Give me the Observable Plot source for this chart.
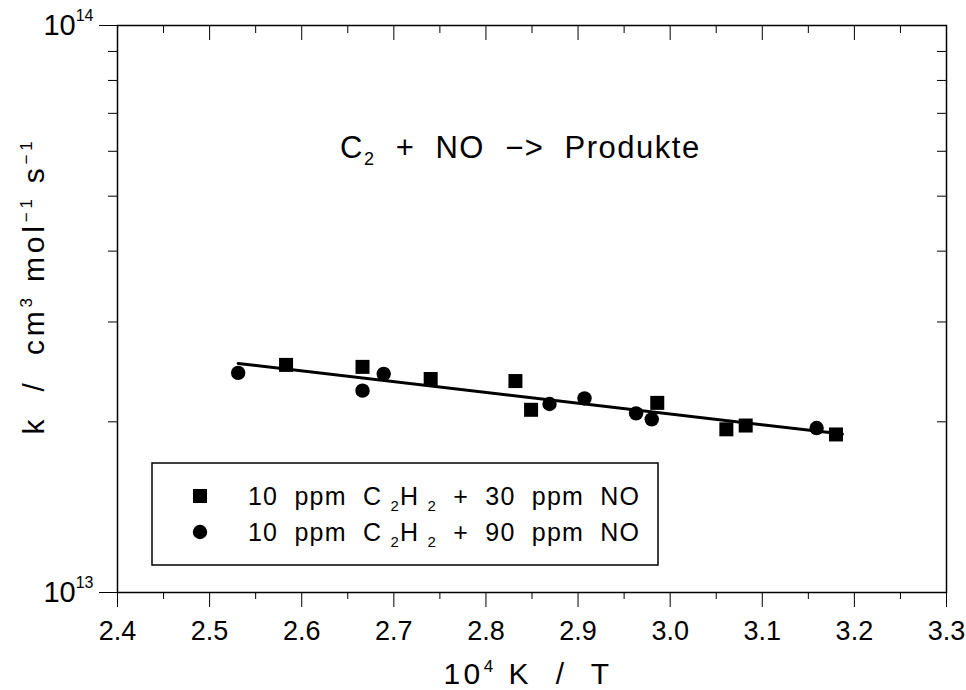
<!DOCTYPE html>
<html><head><meta charset="utf-8">
<script src="https://cdn.jsdelivr.net/npm/d3@7"></script>
<script src="https://cdn.jsdelivr.net/npm/@observablehq/plot@0.6"></script>
<style>body{margin:0;background:#fff}</style>
</head><body><div id="chart"></div>
<script>
// ---- data ----
const xMajor = [2.4, 2.5, 2.6, 2.7, 2.8, 2.9, 3.0, 3.1, 3.2, 3.3];
const xTickLabels = ["2.4","2.5","2.6","2.7","2.8","2.9","3.0","3.1","3.2","3.3"];
const xMinor = [2.45, 2.55, 2.65, 2.75, 2.85, 2.95, 3.05, 3.15, 3.25];
const yMajor = [1e13, 1e14];
const yMinor = [2e13, 3e13, 4e13, 5e13, 6e13, 7e13, 8e13, 9e13];

// 10 ppm C2H2 + 30 ppm NO (squares)
const sqX = [2.583, 2.666, 2.740, 2.832, 2.849, 2.986, 3.061, 3.082, 3.180];
const sqK = [2.52e13, 2.50e13, 2.38e13, 2.36e13, 2.10e13, 2.16e13, 1.94e13, 1.97e13, 1.90e13];
// 10 ppm C2H2 + 90 ppm NO (circles)
const ciX = [2.531, 2.666, 2.689, 2.869, 2.907, 2.963, 2.980, 3.159];
const ciK = [2.44e13, 2.27e13, 2.43e13, 2.15e13, 2.20e13, 2.07e13, 2.02e13, 1.95e13];
// fit line
const fitX = [2.531, 3.187];
const fitK = [2.535e13, 1.903e13];

const seriesNames = ["10 ppm C\u2082H\u2082 + 30 ppm NO", "10 ppm C\u2082H\u2082 + 90 ppm NO"];

const squares = sqX.map((x, i) => ({x, k: sqK[i]}));
const circles = ciX.map((x, i) => ({x, k: ciK[i]}));
const fit = fitX.map((x, i) => ({x, k: fitK[i]}));

const W = 966, H = 690, mL = 117, mR = 20, mT = 25, mB = 98;
const pw = W - mL - mR, ph = H - mT - mB;
const FONT = "'Liberation Sans', Arial, sans-serif";

const svgEl = Plot.plot({
  width: W, height: H,
  marginLeft: mL, marginRight: mR, marginTop: mT, marginBottom: mB,
  style: {fontFamily: FONT, fontSize: "27px", color: "black", background: "white"},
  x: {domain: [2.4, 3.3]},
  y: {type: "log", domain: [1e13, 1e14]},
  marks: [
    Plot.axisX({ticks: xMajor, tickSize: 15, tickPadding: 13, tickFormat: d => xTickLabels[xMajor.indexOf(d)] ?? d.toFixed(1), label: null}),
    Plot.axisX({ticks: xMinor, tickSize: 7, tickFormat: () => "", label: null}),
    Plot.tickX(xMajor, {x: d => d, insetBottom: ph - 15, stroke: "black"}),
    Plot.tickX(xMinor, {x: d => d, insetBottom: ph - 8, stroke: "black"}),
    Plot.axisY({ticks: yMajor, tickSize: 18, tickPadding: 6, tickFormat: d => "10^" + Math.round(Math.log10(d)), label: null}),
    Plot.axisY({ticks: yMinor, tickSize: 9, tickFormat: () => "", label: null}),
    Plot.tickY(yMinor, {y: d => d, insetLeft: pw - 9, stroke: "black"}),
    Plot.frame({stroke: "black", strokeWidth: 1.5}),
    Plot.line(fit, {x: "x", y: "k", stroke: "black", strokeWidth: 3}),
    Plot.dot(squares, {x: "x", y: "k", symbol: "square", r: 7.9, fill: "black", stroke: "none"}),
    Plot.dot(circles, {x: "x", y: "k", symbol: "circle", r: 7.2, fill: "black", stroke: "none"})
  ]
});

const svg = d3.select(svgEl);

// superscript y tick labels
svg.selectAll('g[aria-label="y-axis tick label"] text').each(function() {
  const s = this.textContent;
  if (!s.startsWith("10^")) return;
  const e = s.slice(3);
  const t = d3.select(this);
  t.text(null).attr("font-size", "29px");
  t.append("tspan").text("10");
  t.append("tspan").attr("font-size", "16px").attr("dy", "-0.85em").text(e);
});

function addRich(parent, parts, attrs) {
  const t = parent.append("text").attr("text-anchor", "start");
  Object.entries(attrs).forEach(([k, v]) => t.attr(k, v));
  parts.forEach(p => {
    const ts = t.append("tspan").text(p.t);
    if (p.fs) ts.attr("font-size", p.fs);
    if (p.dy) ts.attr("dy", p.dy);
  });
  return t;
}

// title
addRich(svg, [
  {t: "C"}, {t: "2", fs: "18px", dy: 7}, {t: "  +  NO  \u2212>  Produkte", dy: -7}
], {x: 340, y: 158, "font-family": FONT, "font-size": "31px", "letter-spacing": "1.5px", fill: "black", style: "white-space:pre"});

// x axis label
addRich(svg, [
  {t: "10"}, {t: "4", fs: "17px", dy: -12}, {t: " K  /  T", dy: 12}
], {x: 528, y: 684, "text-anchor": "middle", "font-family": FONT, "font-size": "30px", "letter-spacing": "3.5px", fill: "black", style: "white-space:pre"});

// y axis label
addRich(svg, [
  {t: "k  /  cm"}, {t: "3", fs: "17px", dy: -12}, {t: " mol", dy: 12}, {t: "\u22121", fs: "17px", dy: -12},
  {t: " s", dy: 12}, {t: "\u22121", fs: "17px", dy: -12}
], {transform: "translate(44,286) rotate(-90)", "text-anchor": "middle", "font-family": FONT, "font-size": "30px", "letter-spacing": "3.8px", fill: "black", style: "white-space:pre"});

// legend
const lg = svg.append("g").attr("font-family", FONT).attr("font-size", "25px");
lg.append("rect").attr("x", 152).attr("y", 463).attr("width", 506).attr("height", 102)
  .attr("fill", "none").attr("stroke", "black").attr("stroke-width", 1.5);
const rows = [{sym: d3.symbolSquare, r: 7.9, yc: 496, name: seriesNames[0], num: "30"},
              {sym: d3.symbolCircle, r: 7.2, yc: 532, name: seriesNames[1], num: "90"}];
rows.forEach(row => {
  lg.append("path").attr("transform", `translate(200,${row.yc})`)
    .attr("d", d3.symbol(row.sym, Math.PI * row.r * row.r)()).attr("fill", "black");
  addRich(lg, [
    {t: "10  ppm  C "}, {t: "2", fs: "15px", dy: 6}, {t: "H ", dy: -6}, {t: "2", fs: "15px", dy: 6},
    {t: "  +  " + row.num + "  ppm  NO", dy: -6}
  ], {x: 248, y: row.yc + 9, fill: "black", "letter-spacing": "1.2px", style: "white-space:pre"})
   .append("title").text(row.name);
});

document.getElementById("chart").appendChild(svgEl);
</script>
</body></html>
